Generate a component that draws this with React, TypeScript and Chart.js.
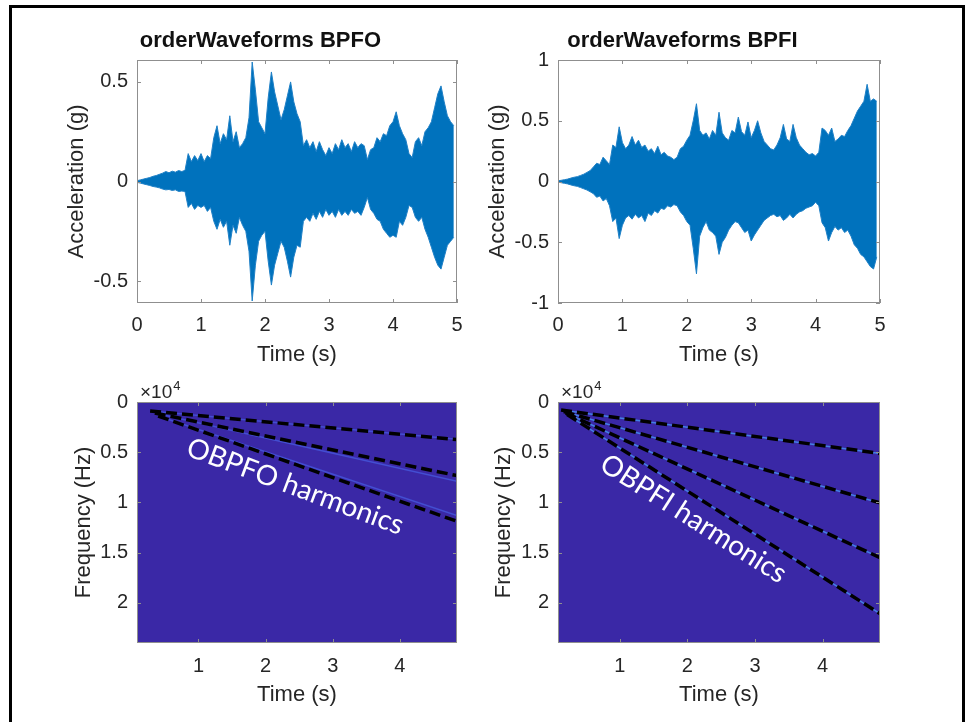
import React, { useEffect, useRef } from "react";
import { Chart, registerables } from "chart.js";

Chart.register(...registerables);

// ---------- DATA ----------
// Waveform envelopes sampled every 0.05 s from 0 to 4.95 s
const SAMPLE_STEP = 0.05;
const BPFO_UPPER = [
  0.004, 0.008, 0.012, 0.016, 0.02, 0.026, 0.03, 0.036, 0.042, 0.05,
  0.044, 0.052, 0.047, 0.055, 0.05, 0.056, 0.14, 0.1, 0.13, 0.105,
  0.14, 0.1, 0.13, 0.115, 0.22, 0.28, 0.19, 0.24, 0.21, 0.33,
  0.2, 0.25, 0.17, 0.19, 0.22, 0.32, 0.6, 0.46, 0.3, 0.27,
  0.24, 0.42, 0.55, 0.45, 0.38, 0.31, 0.36, 0.43, 0.5, 0.4,
  0.34, 0.3, 0.18, 0.21, 0.17, 0.2, 0.15, 0.2, 0.16, 0.13,
  0.17, 0.14, 0.19, 0.16, 0.21, 0.17, 0.19, 0.15, 0.2, 0.17,
  0.19, 0.18, 0.11, 0.16, 0.17, 0.22, 0.2, 0.24, 0.23, 0.28,
  0.3, 0.35, 0.28, 0.24, 0.21, 0.14, 0.12, 0.2, 0.22, 0.18,
  0.25, 0.27, 0.3, 0.37, 0.44, 0.48, 0.4, 0.33, 0.3, 0.28,
];
const BPFO_LOWER = [
  -0.004, -0.008, -0.012, -0.016, -0.02, -0.025, -0.028, -0.032, -0.038, -0.042,
  -0.04, -0.045, -0.042, -0.05, -0.048, -0.05, -0.13, -0.11, -0.14, -0.12,
  -0.13, -0.12, -0.15, -0.13, -0.2, -0.24, -0.19, -0.23, -0.2, -0.32,
  -0.22, -0.26, -0.18, -0.22, -0.25, -0.35, -0.6, -0.42, -0.3, -0.27,
  -0.25, -0.4, -0.52, -0.42, -0.36, -0.3, -0.33, -0.4, -0.48, -0.38,
  -0.32, -0.33, -0.2, -0.18, -0.2, -0.16, -0.19, -0.15, -0.18, -0.14,
  -0.17, -0.15, -0.18, -0.14, -0.17, -0.15, -0.17, -0.14, -0.16, -0.15,
  -0.17, -0.13, -0.08, -0.14, -0.16, -0.19, -0.2, -0.24, -0.26, -0.28,
  -0.27, -0.28, -0.2, -0.22, -0.18, -0.12, -0.13, -0.18, -0.2, -0.18,
  -0.24, -0.28, -0.33, -0.38, -0.42, -0.44, -0.38, -0.32, -0.3, -0.28,
];
const BPFI_UPPER = [
  0.005, 0.01, 0.015, 0.02, 0.028, 0.035, 0.04, 0.05, 0.06, 0.075,
  0.09, 0.12, 0.15, 0.14, 0.2, 0.17, 0.14, 0.3, 0.28, 0.45,
  0.32, 0.27, 0.3, 0.37, 0.3, 0.34, 0.28, 0.3, 0.25, 0.27,
  0.23, 0.29, 0.22, 0.24, 0.21, 0.2, 0.18, 0.2, 0.27, 0.29,
  0.34, 0.38, 0.5, 0.64, 0.42, 0.38, 0.4, 0.35, 0.42, 0.38,
  0.57, 0.4, 0.36, 0.34, 0.42, 0.4, 0.53, 0.41, 0.38, 0.49,
  0.36, 0.42, 0.5, 0.4, 0.33, 0.3, 0.27, 0.26, 0.3, 0.36,
  0.47, 0.35, 0.33, 0.47, 0.36, 0.3, 0.27, 0.24, 0.22, 0.23,
  0.21, 0.24, 0.44, 0.42, 0.38, 0.44, 0.33, 0.35, 0.38, 0.37,
  0.42, 0.46, 0.52, 0.58, 0.62, 0.66, 0.8, 0.66, 0.68, 0.66,
];
const BPFI_LOWER = [
  -0.005, -0.01, -0.015, -0.02, -0.028, -0.035, -0.04, -0.05, -0.06, -0.07,
  -0.085, -0.1, -0.13, -0.12, -0.16, -0.14, -0.2, -0.33, -0.3, -0.47,
  -0.36, -0.3, -0.28, -0.31, -0.27, -0.3, -0.28, -0.33, -0.26, -0.28,
  -0.24, -0.26, -0.22, -0.23, -0.2, -0.21, -0.19, -0.2, -0.25, -0.28,
  -0.33, -0.36, -0.55, -0.76, -0.45, -0.38, -0.33, -0.4, -0.42, -0.45,
  -0.6, -0.5, -0.46, -0.4, -0.36, -0.33, -0.34, -0.38, -0.42, -0.4,
  -0.49, -0.44, -0.4, -0.36, -0.32, -0.3, -0.28, -0.27, -0.29, -0.28,
  -0.32, -0.3, -0.27, -0.3, -0.27, -0.25, -0.24, -0.22, -0.21, -0.2,
  -0.17, -0.2, -0.34, -0.38, -0.49, -0.42, -0.37, -0.4, -0.38, -0.42,
  -0.4, -0.45, -0.52, -0.55, -0.6, -0.62, -0.66, -0.7, -0.72, -0.62,
];

const WAVE_X_TICKS = [0, 1, 2, 3, 4, 5];
const BPFO_Y_TICKS = [-0.5, 0, 0.5];
const BPFI_Y_TICKS = [-1, -0.5, 0, 0.5, 1];

const SPEC_X_TICKS = [1, 2, 3, 4];
const SPEC_Y_TICKS = [0, 5000, 10000, 15000, 20000];
const SPEC_Y_LABELS = ["0", "0.5", "1", "1.5", "2"];
const SPEC_T_END = 4.85;

// Order harmonic lines (start time, start freq, end freq at SPEC_T_END)
const BPFO_HARM_T0 = [0.28, 0.35, 0.4];
const BPFO_HARM_F0 = [900, 1100, 1400];
const BPFO_HARM_F1 = [3740, 7330, 11880];
const BPFO_RIDGE_F1 = [3700, 7900, 11300];

const BPFI_HARM_T0 = [0.13, 0.17, 0.2, 0.22];
const BPFI_HARM_F0 = [800, 950, 1100, 1250];
const BPFI_HARM_F1 = [5120, 10050, 15500, 21080];
const BPFI_RIDGE_F1 = [5120, 10050, 15500, 21080];

// ---------- STYLE ----------
const FONT = "'Liberation Sans', Arial, sans-serif";
const TEXT = "#262626";
const BOX = "#8f8f8f";
const BLUE = "#0072BD";
const SPEC_BG = "rgb(58,40,166)";

const matlabAxes = {
  id: "matlabAxes",
  beforeDatasetsDraw(chart: any, _a: any, opts: any) {
    if (opts.background) {
      const { left, top, right, bottom } = chart.chartArea;
      chart.ctx.save();
      chart.ctx.fillStyle = opts.background;
      chart.ctx.fillRect(left, top, right - left, bottom - top);
      chart.ctx.restore();
    }
  },
  afterDatasetsDraw(chart: any, _a: any, opts: any) {
    const ctx = chart.ctx;
    const { left, top, right, bottom } = chart.chartArea;
    const xs = chart.scales.x;
    const ys = chart.scales.y;
    ctx.save();
    if (opts.label) {
      const l = opts.label;
      ctx.save();
      ctx.translate(xs.getPixelForValue(l.t), ys.getPixelForValue(l.f));
      ctx.rotate((l.angle * Math.PI) / 180);
      ctx.font = `${l.size}px Lato, 'Open Sans', sans-serif`;
      ctx.fillStyle = "#ffffff";
      ctx.textAlign = "center";
      ctx.textBaseline = "middle";
      ctx.fillText(l.text, 0, 0);
      ctx.restore();
    }
    ctx.strokeStyle = BOX;
    ctx.lineWidth = 1;
    ctx.strokeRect(left + 0.5, top + 0.5, right - left - 1, bottom - top - 1);
    const tl = 4;
    ctx.beginPath();
    for (const t of xs.ticks) {
      const px = Math.round(xs.getPixelForValue(t.value)) + 0.5;
      ctx.moveTo(px, bottom);
      ctx.lineTo(px, bottom - tl);
      ctx.moveTo(px, top);
      ctx.lineTo(px, top + tl);
    }
    for (const t of ys.ticks) {
      const py = Math.round(ys.getPixelForValue(t.value)) + 0.5;
      ctx.moveTo(left, py);
      ctx.lineTo(left + tl, py);
      ctx.moveTo(right, py);
      ctx.lineTo(right - tl, py);
    }
    ctx.stroke();
    if (opts.exponent) {
      ctx.fillStyle = TEXT;
      ctx.textBaseline = "alphabetic";
      ctx.textAlign = "left";
      ctx.font = `19px ${FONT}`;
      ctx.fillText("\u00d710", left + 3, top - 4);
      const w = ctx.measureText("\u00d710").width;
      ctx.font = `13px ${FONT}`;
      ctx.fillText("4", left + 3 + w + 1, top - 12);
    }
    ctx.restore();
  },
};

type Geo = {
  pad: { left: number; right: number; top: number; bottom: number };
  yWidth: number;
  xHeight: number;
};

function fixedAxis(size: number, horizontal: boolean) {
  return (scale: any) => {
    if (horizontal) scale.height = size;
    else scale.width = size;
    scale.paddingLeft = 0;
    scale.paddingRight = 0;
    scale.paddingTop = 0;
    scale.paddingBottom = 0;
  };
}

function setTicks(values: number[]) {
  return (scale: any) => {
    scale.ticks = values.map((v) => ({ value: v }));
  };
}

function baseScales(
  geo: Geo,
  xMin: number,
  xMax: number,
  xTicks: number[],
  yMin: number,
  yMax: number,
  yTicks: number[],
  yLabel: string,
  yFormat: (v: number) => string,
  reverse: boolean,
  xPad: number
) {
  return {
    x: {
      type: "linear",
      min: xMin,
      max: xMax,
      afterBuildTicks: setTicks(xTicks),
      afterFit: fixedAxis(geo.xHeight, true),
      grid: { display: false, drawTicks: false },
      border: { display: false },
      ticks: {
        autoSkip: false,
        maxRotation: 0,
        minRotation: 0,
        padding: xPad,
        color: TEXT,
        font: { family: FONT, size: 20 },
        callback: (v: number) => String(v),
      },
      title: {
        display: true,
        text: "Time (s)",
        color: TEXT,
        padding: 0,
        font: { family: FONT, size: 22 },
      },
    },
    y: {
      type: "linear",
      min: yMin,
      max: yMax,
      reverse,
      afterBuildTicks: setTicks(yTicks),
      afterFit: fixedAxis(geo.yWidth, false),
      grid: { display: false, drawTicks: false },
      border: { display: false },
      ticks: {
        autoSkip: false,
        padding: 9,
        color: TEXT,
        font: { family: FONT, size: 20 },
        callback: (v: number) => yFormat(v),
      },
      title: {
        display: true,
        text: yLabel,
        color: TEXT,
        padding: 0,
        font: { family: FONT, size: 22 },
      },
    },
  };
}

function waveConfig(
  title: string,
  upper: number[],
  lower: number[],
  yLim: number,
  yTicks: number[],
  geo: Geo
) {
  const up = upper.map((v, i) => ({ x: i * SAMPLE_STEP, y: v }));
  const lo = lower.map((v, i) => ({ x: i * SAMPLE_STEP, y: v }));
  return {
    type: "line",
    data: {
      datasets: [
        { data: up, borderColor: "#1f80c6", borderWidth: 1, pointRadius: 0, fill: false, tension: 0 },
        { data: lo, borderColor: "#1f80c6", borderWidth: 1, pointRadius: 0, fill: "-1", backgroundColor: BLUE, tension: 0 },
      ],
    },
    options: {
      animation: false,
      responsive: false,
      events: [],
      layout: { padding: geo.pad },
      plugins: {
        legend: { display: false },
        tooltip: { enabled: false },
        title: {
          display: true,
          text: title,
          color: "#111",
          font: { family: FONT, size: 22, weight: "bold" },
          padding: { top: 27.8, bottom: 5.8 },
        },
        matlabAxes: {},
      },
      scales: baseScales(geo, 0, 5, WAVE_X_TICKS, -yLim, yLim, yTicks, "Acceleration (g)", (v) => String(v), false, 10.5),
    },
    plugins: [matlabAxes],
  };
}

function specConfig(
  t0: number[],
  f0: number[],
  f1: number[],
  ridgeF1: number[],
  ridgeColor: string,
  label: any,
  geo: Geo
) {
  const dashed = t0.map((t, i) => ({
    data: [
      { x: t, y: f0[i] },
      { x: SPEC_T_END, y: f1[i] },
    ],
    borderColor: "#000",
    borderWidth: 3.5,
    borderDash: [11, 5],
    pointRadius: 0,
    clip: 0,
  }));
  const ridges = t0.map((t, i) => ({
    data: [
      { x: t, y: f0[i] },
      { x: SPEC_T_END, y: ridgeF1[i] },
    ],
    borderColor: ridgeColor,
    borderWidth: 1.5,
    pointRadius: 0,
    clip: 0,
  }));
  return {
    type: "line",
    data: { datasets: [...dashed, ...ridges] },
    options: {
      animation: false,
      responsive: false,
      events: [],
      layout: { padding: geo.pad },
      plugins: {
        legend: { display: false },
        tooltip: { enabled: false },
        title: { display: false },
        matlabAxes: { background: SPEC_BG, exponent: true, label },
      },
      scales: baseScales(
        geo,
        0.085,
        SPEC_T_END,
        SPEC_X_TICKS,
        0,
        24000,
        SPEC_Y_TICKS,
        "Frequency (Hz)",
        (v) => SPEC_Y_LABELS[SPEC_Y_TICKS.indexOf(v)] ?? "",
        true,
        11
      ),
    },
    plugins: [matlabAxes],
  };
}

function ChartBox(props: { left: number; top: number; width: number; height: number; make: () => any }) {
  const ref = useRef<HTMLCanvasElement | null>(null);
  useEffect(() => {
    const chart = new Chart(ref.current as HTMLCanvasElement, props.make());
    return () => chart.destroy();
  }, []);
  return (
    <canvas
      ref={ref}
      width={props.width}
      height={props.height}
      style={{ position: "absolute", left: props.left, top: props.top, width: props.width, height: props.height }}
    />
  );
}

export default function App() {
  return (
    <div style={{ position: "absolute", left: 0, top: 0, width: 968, height: 722, background: "#fff", overflow: "hidden" }}>
      <div
        style={{
          position: "absolute",
          left: 9,
          top: 5,
          width: 950,
          height: 760,
          border: "3px solid #000",
        }}
      />
      <ChartBox
        left={0}
        top={0}
        width={484}
        height={370}
        make={() =>
          waveConfig("orderWaveforms BPFO", BPFO_UPPER, BPFO_LOWER, 0.61, BPFO_Y_TICKS, {
            pad: { left: 63.8, right: 27, top: 0, bottom: 1.8 },
            yWidth: 73.2,
            xHeight: 65.2,
          })
        }
      />
      <ChartBox
        left={484}
        top={0}
        width={484}
        height={370}
        make={() =>
          waveConfig("orderWaveforms BPFI", BPFI_UPPER, BPFI_LOWER, 1, BPFI_Y_TICKS, {
            pad: { left: 0.8, right: 88, top: 0, bottom: 1.8 },
            yWidth: 73.2,
            xHeight: 65.2,
          })
        }
      />
      <ChartBox
        left={0}
        top={370}
        width={484}
        height={352}
        make={() =>
          specConfig(
            BPFO_HARM_T0,
            BPFO_HARM_F0,
            BPFO_HARM_F1,
            BPFO_RIDGE_F1,
            "rgba(75,110,245,0.55)",
            { text: "OBPFO harmonics", t: 2.44, f: 8420, angle: 20.5, size: 28 },
            { pad: { left: 70.8, right: 27, top: 32, bottom: 13.8 }, yWidth: 66.2, xHeight: 65.2 }
          )
        }
      />
      <ChartBox
        left={484}
        top={370}
        width={484}
        height={352}
        make={() =>
          specConfig(
            BPFI_HARM_T0,
            BPFI_HARM_F0,
            BPFI_HARM_F1,
            BPFI_RIDGE_F1,
            "rgba(70,150,245,0.8)",
            { text: "OBPFI harmonics", t: 2.09, f: 11630, angle: 32.5, size: 28 },
            { pad: { left: 6.8, right: 88, top: 32, bottom: 13.8 }, yWidth: 67.2, xHeight: 65.2 }
          )
        }
      />
    </div>
  );
}
